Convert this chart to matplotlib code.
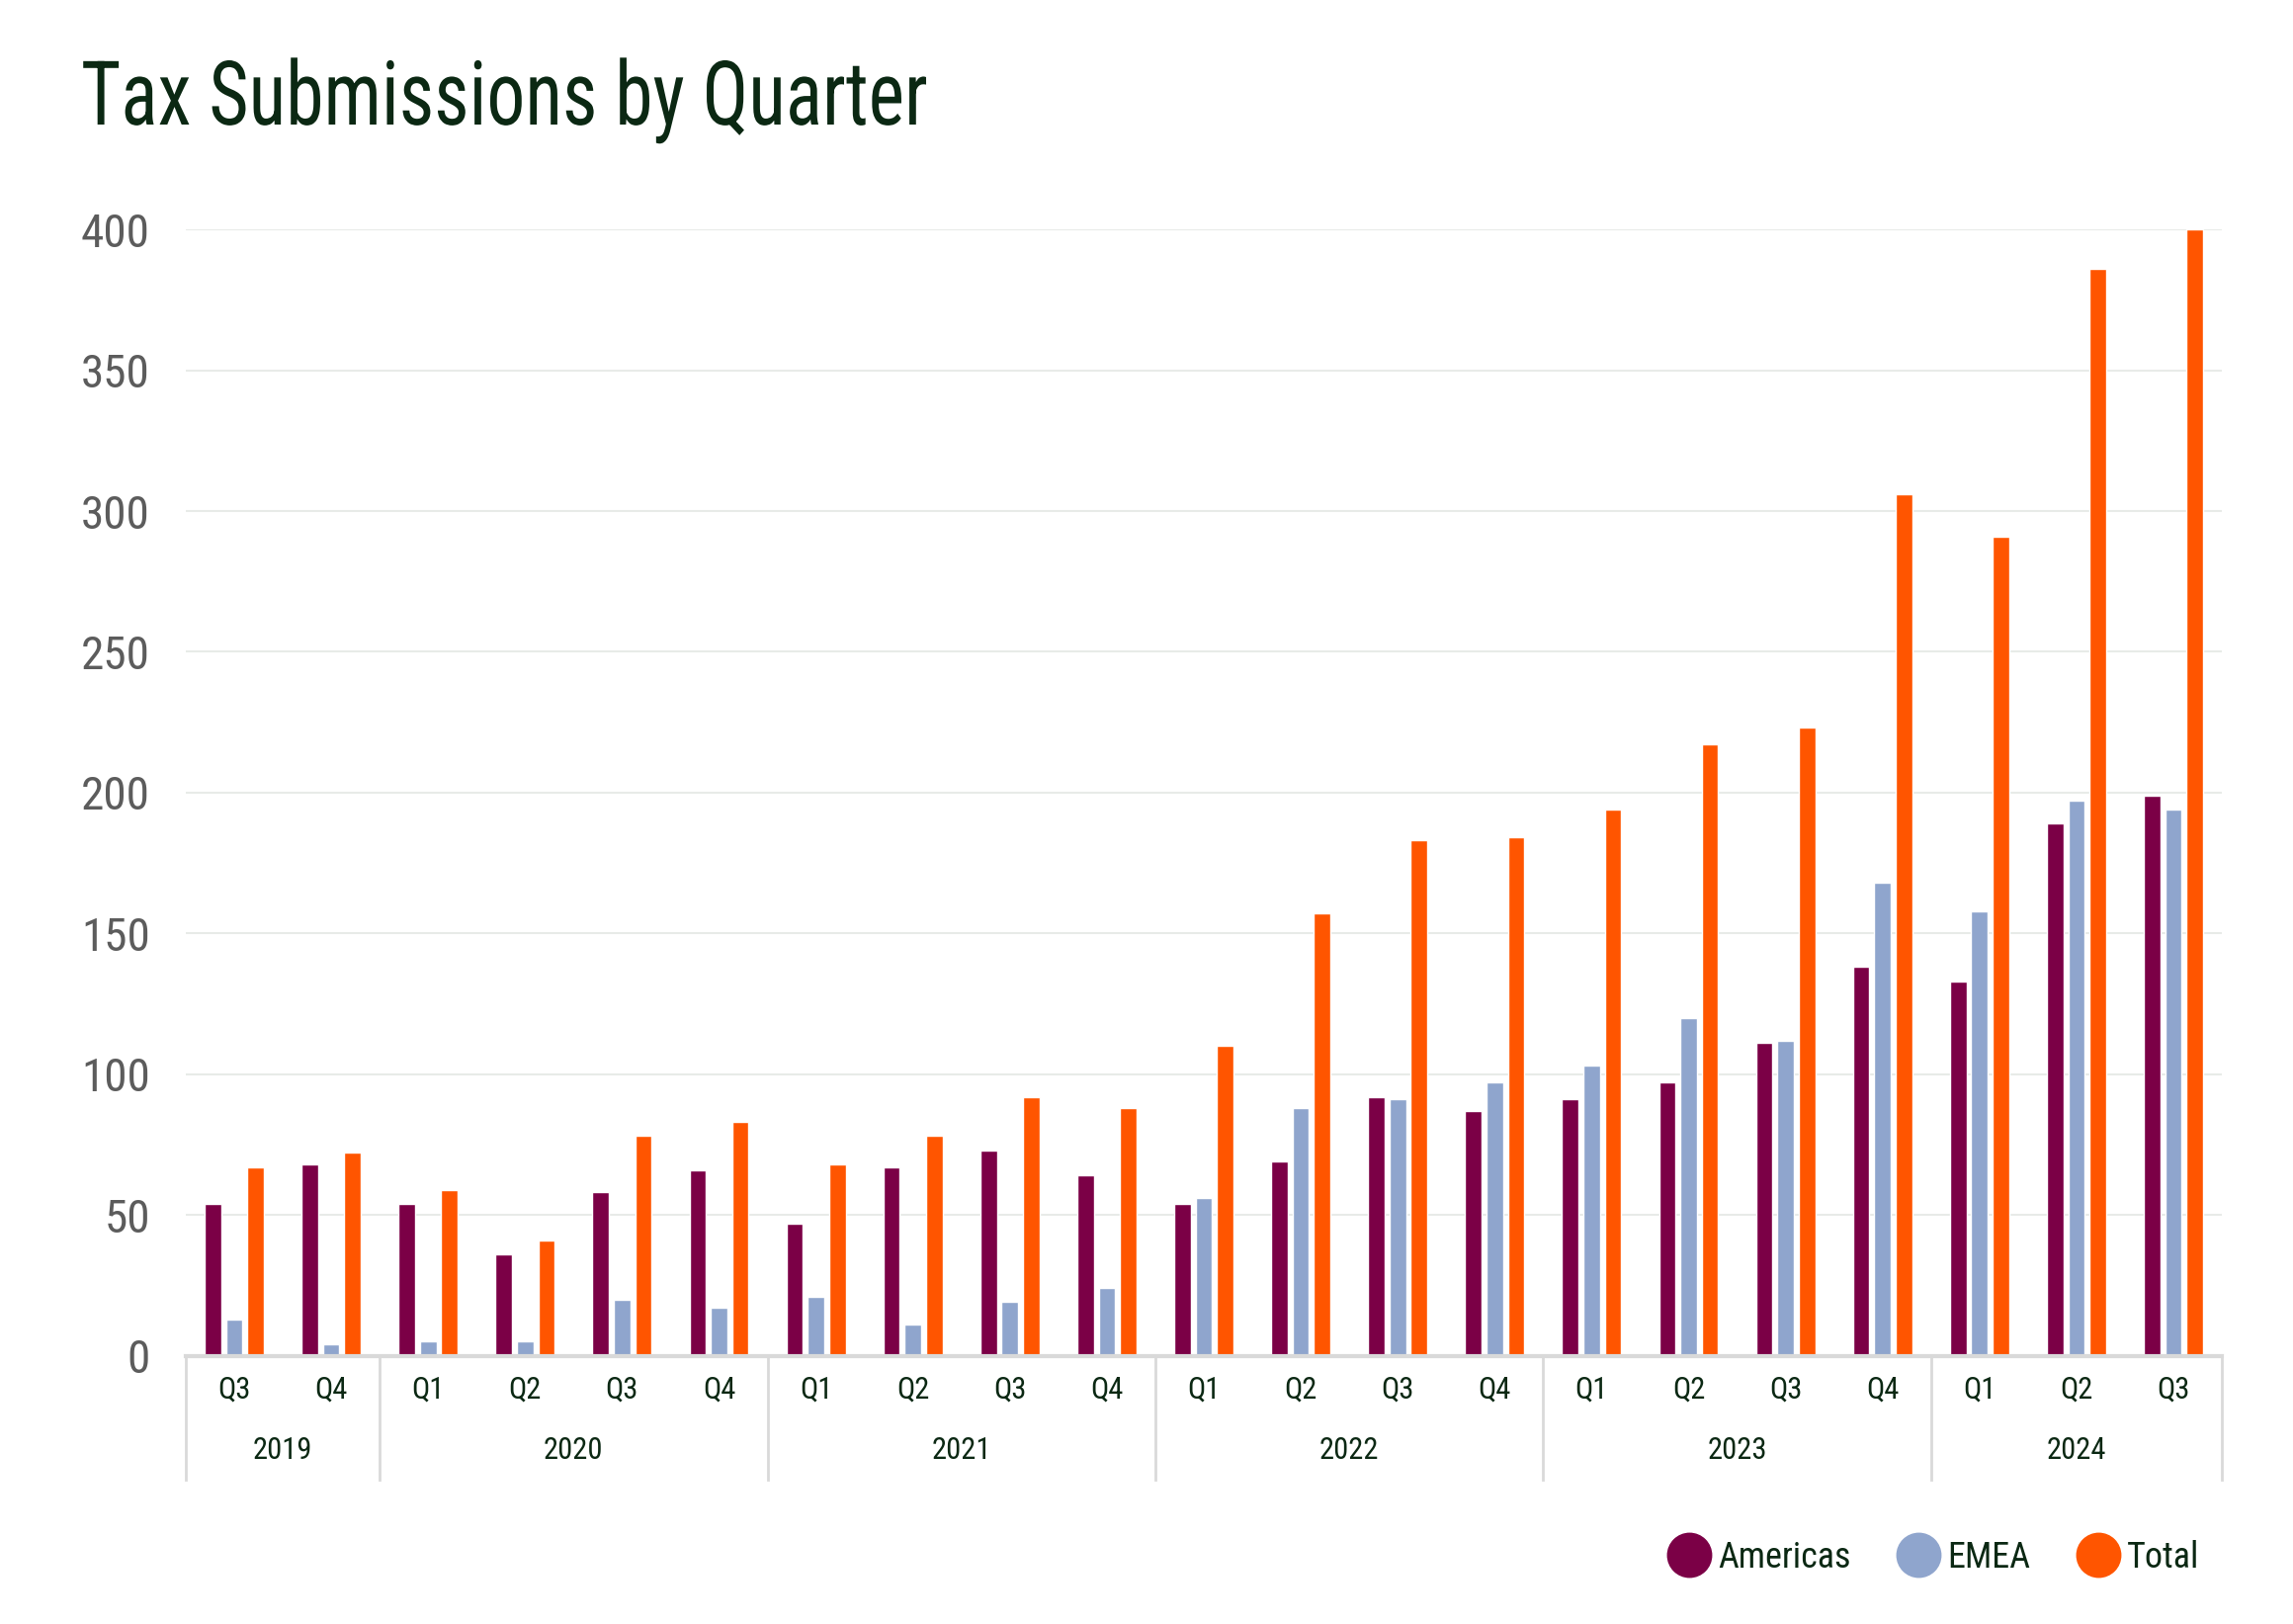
import numpy as np
import matplotlib
matplotlib.use('Agg')
import matplotlib.pyplot as plt
from matplotlib.lines import Line2D
import matplotlib.transforms as mtransforms
from matplotlib.patheffects import AbstractPathEffect

plt.rcParams['font.family'] = ['Roboto Condensed', 'DejaVu Sans']

# data
years = ['2019', '2020', '2021', '2022', '2023', '2024']
quarters_per_year = [2, 4, 4, 4, 4, 3]
quarters = ['Q3', 'Q4',
            'Q1', 'Q2', 'Q3', 'Q4',
            'Q1', 'Q2', 'Q3', 'Q4',
            'Q1', 'Q2', 'Q3', 'Q4',
            'Q1', 'Q2', 'Q3', 'Q4',
            'Q1', 'Q2', 'Q3']
americas = [54, 68, 54, 36, 58, 66, 47, 67, 73, 64, 54, 69, 92, 87, 91, 97, 111, 138, 133, 189, 199]
emea = [13, 4, 5, 5, 20, 17, 21, 11, 19, 24, 56, 88, 91, 97, 103, 120, 112, 168, 158, 197, 194]
total = [67, 72, 59, 41, 78, 83, 68, 78, 92, 88, 110, 157, 183, 184, 194, 217, 223, 306, 291, 386, 400]

series = ['Americas', 'EMEA', 'Total']
colors = ['#7b0046', '#8fa5cd', '#ff5500']

dark = '#0b2813'
grey_txt = '#5c5c5c'


class SqueezeX(AbstractPathEffect):
    # squeeze text horizontally around its left edge
    def __init__(self, sx, fig, xfig):
        super().__init__()
        self.sx = sx
        self.fig = fig
        self.xfig = xfig

    def draw_path(self, renderer, gc, tpath, affine, rgbFace=None):
        x0 = self.fig.transFigure.transform((self.xfig, 0))[0]
        squeeze = mtransforms.Affine2D().translate(-x0, 0).scale(self.sx, 1).translate(x0, 0)
        renderer.draw_path(gc, tpath, affine + squeeze, rgbFace)


fig = plt.figure(figsize=(23.2, 16.43), dpi=100)
ax = fig.add_axes([0.081, 0.1652, 0.888, 0.6935])

x = np.arange(len(quarters))
w = 0.17
step = 0.22
for i, (vals, col) in enumerate(zip([americas, emea, total], colors)):
    ax.bar(x + (i - 1) * step, vals, width=w, color=col, edgecolor='white',
           linewidth=1.0, zorder=3)

ax.set_xlim(-0.5, len(quarters) - 0.5)
ax.set_ylim(0, 400)
ax.set_yticks(np.arange(0, 401, 50))
ax.tick_params(axis='y', length=0, pad=26, labelsize=34, labelcolor=grey_txt)
ax.set_xticks([])
ax.grid(axis='y', color='#e8ebe8', linewidth=1.5, zorder=0)
for s in ['top', 'right', 'left']:
    ax.spines[s].set_visible(False)
ax.spines['bottom'].set_color('#d9d9d9')
ax.spines['bottom'].set_linewidth(3)
ax.spines['bottom'].set_zorder(4)

trans = mtransforms.blended_transform_factory(ax.transData, ax.transAxes)
for xi, q in zip(x, quarters):
    ax.text(xi, -0.030, q, transform=trans, ha='center', va='center',
            fontsize=22, color=dark)

bounds = np.concatenate([[0], np.cumsum(quarters_per_year)]) - 0.5
for b in bounds:
    ax.plot([b, b], [0, -0.11], transform=trans, color='#d9d9d9',
            linewidth=2, clip_on=False)
for yr, a, b in zip(years, bounds[:-1], bounds[1:]):
    ax.text((a + b) / 2, -0.0843, yr, transform=trans, ha='center', va='center',
            fontsize=22, color=dark)

title_x = 0.0353
fig.text(title_x, 0.9233, 'Tax Submissions by Quarter', fontsize=65, color=dark,
         ha='left', va='baseline', path_effects=[SqueezeX(0.86, fig, title_x)])

handles = [Line2D([], [], marker='o', linestyle='', markersize=32,
                  markerfacecolor=c, markeredgecolor=c) for c in colors]
fig.legend(handles, series, loc='center right', bbox_to_anchor=(0.973, 0.041),
           ncol=3, frameon=False, fontsize=26, labelcolor=dark,
           handletextpad=0.2, columnspacing=1.3, handlelength=1.2)

fig.savefig('out.png', dpi=100, facecolor='white')
